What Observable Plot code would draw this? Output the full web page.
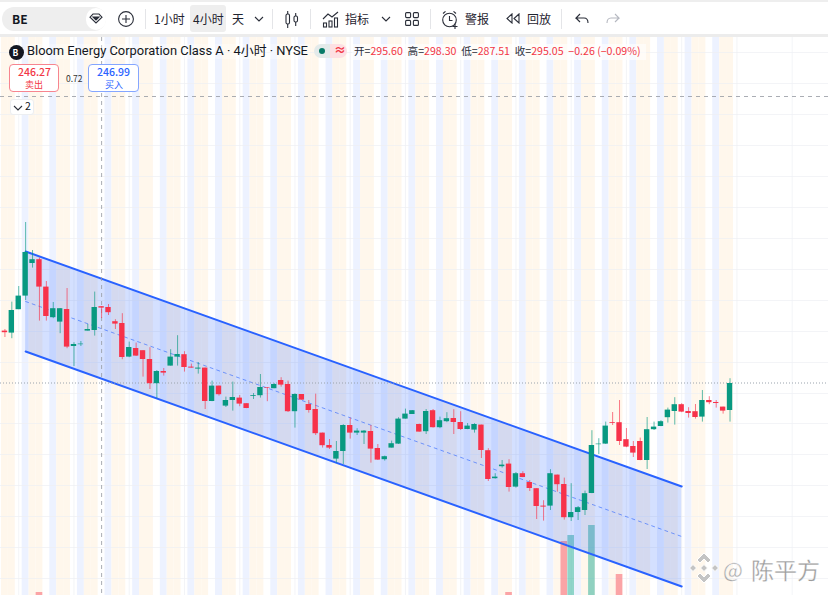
<!DOCTYPE html>
<html lang="zh">
<head>
<meta charset="utf-8">
<script src="https://cdn.jsdelivr.net/npm/d3@7"></script>
<script src="https://cdn.jsdelivr.net/npm/@observablehq/plot@0.6"></script>
<style>
html,body{margin:0;padding:0;width:828px;height:595px;overflow:hidden;background:#fff;font-family:"Noto Sans CJK SC","Noto Sans",sans-serif;color:#131722}
#wrap{position:relative;width:828px;height:595px;overflow:hidden}
#toolbar{height:37px;box-sizing:border-box;border-top:2px solid #eeeeee;border-bottom:3px solid #ececec;background:#fff}
#chart svg{display:block}
.a{position:absolute;white-space:nowrap;line-height:1}
.sep{position:absolute;top:9px;width:1px;height:20px;background:#e4e5e8}
.r{color:#f23645}
svg.i{position:absolute;fill:none;stroke:#2a2e39;stroke-width:1.1}
</style>
</head>
<body>
<div id="wrap">
  <div id="toolbar"></div>
  <div id="chart"></div>
  <div id="ui"></div>
</div>
<script>
// OHLC values, one per 4-hour bar
const opens = [272.2,271.2,282.9,289.7,306,307.9,294.2,278.9,276.7,283,264.5,265.4,272.2,272.5,284.4,284,276.9,276,259.2,263.5,262.4,258,245.9,252,254.7,259.2,260.4,254.2,253.2,253.7,237,244.7,234.7,237.5,238.7,235.9,239.5,239.9,244,243.4,247.5,245.5,231.9,240.5,235.5,233,221.2,215,208.2,212,225,221.2,221.2,222,213.5,207.9,213.7,215.7,228.2,230.5,225.5,221.9,232.4,223.9,226.9,228.5,226.5,223,222.7,225.2,212.4,198.4,204.4,205.7,194.2,200.9,196.5,193.4,184.7,184.7,200.2,195.5,178.9,181.5,182.5,191,215.4,215.7,226.4,226.4,217.9,214.5,217,207.5,222.9,224.5,228.9,232,235.4,232,231.9,229.2,237.5,236.5,234.2,232.5];
const closes = [271.4,282.5,289.7,311.5,307.9,294.2,279.5,283.4,283.4,264.2,265.5,265.7,273,284,283.7,281.4,275.7,259,264,259.7,258,245.9,252,251.2,259.2,260.5,254,253.7,253.7,237,244.7,240.4,237.5,239,235.7,233.5,239.9,244,243.7,245.5,245.2,231.9,240.5,237.7,232.5,220.9,214.9,213.7,212,225,221.2,222.2,222.2,213.2,207.7,209.4,215.9,228.2,230.7,232.4,221.7,232,223.9,227.4,228.4,226.5,223,224.7,225.5,212.5,198,199.2,205.2,194,200.9,199,193.5,184.5,184.2,200.9,195.4,178.9,181.5,183.9,190.9,215,215.7,224.7,226,217,214.2,211.2,207.5,222.9,224.2,226.9,232.7,235.4,231.7,231,229,237.5,236.4,236,232.2,246];
const highs = [273,286.7,294.5,326.5,312.5,308.7,297,286.5,283.5,293.5,266.4,267,275.5,291.7,284.5,285.5,277.9,280.9,266.7,266.2,262.4,263.9,252.5,253.5,262.9,269.9,261.9,255.7,256.5,253.7,247.2,244.7,239.2,246.7,240,235.9,241,250.5,244,245.9,248.9,247.2,240.9,240.5,237.5,240.7,221.2,218,217,225.4,228.7,223.4,222.5,225,215.5,209.7,217.2,228.9,233.2,232.5,225.7,233,233,229.2,231.4,232.9,231.9,226,225.9,225.2,213.4,200.9,207.5,207.9,201.5,201.9,197.5,193.4,187.4,202.9,200.2,198.7,195.9,184.5,192.2,222.4,218.4,226.7,231.5,237.5,223.5,217,218.7,229,226.7,227.4,233.7,238.9,235.9,233.9,235.5,242.5,239.4,237.5,234.2,248.4];
const lows = [269,268.4,282.9,287.5,303.7,277.2,277.2,278.4,270.9,263.4,254.5,264.5,272.2,269.7,278.5,280,273,257.9,258.9,259.5,249.2,243,238.4,249.7,254.7,254.7,251.7,253.7,250.7,233,236.9,239.7,234,232.2,234.4,233.4,238,238.7,236.9,243.4,244.2,231.5,223.7,237.5,231.2,220,213.7,213,206.2,205.5,218.2,220,215.5,206.2,207.5,207.2,213.7,215.5,228.2,230.5,221.7,220.5,223.7,223.4,226.4,220.5,222.5,222.9,221.2,208.5,197,198.2,203.7,191.7,193.7,198.9,192,178,177.2,182.5,191.7,177.7,177,177.5,180,190.9,210.5,215.5,225,215,213.9,209,207.4,203,222.5,224.4,226.2,225.2,231.4,228.7,228.2,226.7,235.4,233.7,230.7,226.7];

// volume bars visible at the bottom edge
const volumeBars = [5, 73, 81, 82, 85, 89];
const volumeSize = [1.5, 1.5, 27, 30, 35, 10.5];
const volumeUp = [false, false, false, true, true, false];

// parallel channel (bar index, price)
const channelBars = [3, 98];
const channelUpper = [312, 194.5];
const channelMiddle = [287, 169.5];
const channelLower = [262, 144.5];

// reference levels
const lastPrice = 246.25;
const crosshairBar = 14;
const crosshairPrice = 389.5;
const gridPrices = [411.5,396,380.5,365,349.5,334,318.5,303,287.5,272,256.5,241,226,210.5,195,179.5,164,148.5];
const gridBars = [2,10,18,26,34,42,50,58,66,74,82,90,98,106,114];
const sessionCycle = ["pre","pre","regular","post"];

const UP = "#089981", DOWN = "#f7324a";
const bars = opens.map((o, i) => ({i, o, c: closes[i], h: highs[i], l: lows[i], up: closes[i] >= o}));
const stripes = bars.map(d => ({i: d.i, s: sessionCycle[d.i % 4]}));
const vols = volumeBars.map((b, k) => ({i: b, v: volumeSize[k], up: volumeUp[k]}));
const channel = channelBars.map((b, k) => ({i: b, u: channelUpper[k], m: channelMiddle[k], l: channelLower[k]}));
const sFill = {pre: "#fff7ec", post: "#edf2ff"};
const Y0 = 140, Y1 = 419, half = 0.39;

const plot = Plot.plot({
  width: 828, height: 558,
  marginTop: 0, marginBottom: 0, marginLeft: 0, marginRight: 0,
  x: {domain: [-0.64, 119.26], range: [0, 828], axis: null},
  y: {domain: [Y0, Y1], range: [558, 0], axis: null},
  style: {background: "transparent"},
  marks: [
    Plot.rect(stripes.filter(d => d.s !== "regular"), {x1: d => d.i - 0.5, x2: d => d.i + 0.5, y1: Y0, y2: Y1, fill: d => sFill[d.s]}),
    Plot.ruleY(gridPrices, {stroke: "#eef0f3", strokeOpacity: 0.7, strokeWidth: 1}),
    Plot.ruleX(gridBars, {stroke: "#eef0f3", strokeOpacity: 0.7, strokeWidth: 1}),
    Plot.rect(vols, {x1: d => d.i - 0.48, x2: d => d.i + 0.48, y1: Y0, y2: d => Y0 + d.v, fill: d => d.up ? "#22ab94" : "#f7525f", fillOpacity: 0.5}),
    Plot.areaY(channel, {x: "i", y1: "l", y2: "u", fill: "#2962ff", fillOpacity: 0.2, curve: "linear"}),
    Plot.line(channel, {x: "i", y: "m", stroke: "#2962ff", strokeOpacity: 0.6, strokeWidth: 1, strokeDasharray: "3,4"}),
    Plot.line(channel, {x: "i", y: "u", stroke: "#2962ff", strokeWidth: 2}),
    Plot.line(channel, {x: "i", y: "l", stroke: "#2962ff", strokeWidth: 2}),
    Plot.ruleY([lastPrice], {stroke: "#9aa3ad", strokeWidth: 1, strokeDasharray: "1,2"}),
    Plot.ruleY([crosshairPrice], {stroke: "#9598a1", strokeWidth: 1, strokeDasharray: "4,4", strokeOpacity: 0.8}),
    Plot.ruleX([crosshairBar], {stroke: "#9598a1", strokeWidth: 1, strokeDasharray: "4,4", strokeOpacity: 0.8}),
    Plot.ruleX(bars, {x: "i", y1: "l", y2: "h", stroke: d => d.up ? UP : DOWN, strokeWidth: 1, strokeOpacity: 0.65}),
    Plot.rect(bars, {x1: d => d.i - half, x2: d => d.i + half, y1: "o", y2: "c", fill: d => d.up ? UP : DOWN})
  ]
});
document.getElementById("chart").appendChild(plot);

// toolbar and legend chrome
const txt = (s, x, y, css = "") => `<div class="a" style="left:${x}px;top:${y}px;${css}">${s}</div>`;
const tb = (s, x) => txt(s, x, 13, "font-size:12px;color:#1f2430");
const ic = (x, y, w, h, body, css = "") => `<svg class="i" style="left:${x}px;top:${y}px;${css}" width="${w}" height="${h}" viewBox="0 0 ${w} ${h}">${body}</svg>`;
const chev = (x, y) => ic(x, y, 10, 6, `<path d="M1 1l4 4 4-4"/>`);
const ui = [
  `<div class="a" style="left:2px;top:7px;width:104px;height:24px;border-radius:12px;background:#eeeeee"></div>`,
  `<div class="a" style="left:86px;top:8px;width:20px;height:22px;border-radius:11px;background:#fff"></div>`,
  txt("BE", 12, 13, "font-size:12px;font-weight:700"),
  ic(89, 13, 14, 11, `<path d="M4 1h6l3 3.2L7 10 1 4.2z"/><path d="M4 4h6L7 7z" fill="#2a2e39"/>`),
  ic(118, 11, 16, 16, `<circle cx="8" cy="8" r="7.4"/><path d="M8 4v8M4 8h8"/>`),
  `<div class="sep" style="left:145px"></div>`,
  tb("1小时", 154),
  `<div class="a" style="left:190px;top:5px;width:36px;height:27px;border-radius:3px;background:#eeeeee"></div>`,
  tb("4小时", 193),
  tb("天", 232),
  chev(254, 16),
  `<div class="sep" style="left:272px"></div>`,
  ic(285, 11, 14, 17, `<rect x="1" y="3" width="3.5" height="10" rx="1.5"/><path d="M2.7 0v3M2.7 13v4"/><rect x="9" y="5" width="3.5" height="6" rx="1.5"/><path d="M10.7 2v3M10.7 11v4"/>`),
  `<div class="sep" style="left:310px"></div>`,
  ic(322, 11, 17, 17, `<path d="M1 8l5-5 4 3 6-5"/><rect x="1.5" y="12" width="3" height="4"/><rect x="7" y="10" width="3" height="6"/><rect x="12.5" y="7" width="3" height="9"/>`),
  tb("指标", 345),
  chev(381, 16),
  ic(405, 12, 14, 14, `<rect x=".6" y=".6" width="5" height="5" rx="1"/><rect x="8.4" y=".6" width="5" height="5" rx="1"/><rect x=".6" y="8.4" width="5" height="5" rx="1"/><rect x="8.4" y="8.4" width="5" height="5" rx="1"/>`),
  `<div class="sep" style="left:430px"></div>`,
  ic(441, 10, 18, 19, `<circle cx="8.5" cy="10" r="6.8"/><path d="M8.5 6v4.5h3M2 3.5L4.5 1.3M15 3.5l-2.5-2.2M14 14v5M11.5 16.5h5"/>`),
  tb("警报", 465),
  ic(506, 13, 14, 11, `<path d="M6 1L1 5.5 6 10zM13 1L8 5.5 13 10z"/>`),
  tb("回放", 527),
  `<div class="sep" style="left:561px"></div>`,
  ic(575, 13, 14, 11, `<path d="M5 1L1 5h8c2.5 0 4 1.8 4 5M1 5l4 4"/>`),
  ic(606, 13, 14, 11, `<path d="M9 1l4 4H5C2.5 5 1 6.8 1 10M13 5l-4 4"/>`, "stroke:#b5b8c0;"),

  `<div class="a" style="left:9px;top:45px;width:15px;height:15px;border-radius:8px;background:#131722"></div>`,
  txt("B", 12.5, 48, "font-size:8.5px;font-weight:700;color:#fff"),
  `<div class="a" style="left:26px;top:44px;width:284px;height:15px;background:rgba(255,255,255,.35)"></div>`,
  txt("Bloom Energy Corporation Class A · 4小时 · NYSE", 27, 45, "font-size:12.9px;font-family:'Roboto','Noto Sans CJK SC',sans-serif"),
  `<div class="a" style="left:314px;top:44px;width:16px;height:14px;border-radius:7px 0 0 7px;background:#e3eaea"></div>`,
  `<div class="a" style="left:330px;top:44px;width:17px;height:14px;border-radius:0 7px 7px 0;background:#fde0e3"></div>`,
  `<div class="a" style="left:319px;top:48px;width:6px;height:6px;border-radius:3px;background:#067a68"></div>`,
  txt("≈", 334, 44, "font-size:12px;font-weight:700;color:#f23645"),
  `<div class="a" style="left:352px;top:44px;width:294px;height:16px;background:rgba(255,255,255,.6)"></div>`,
  txt(`开=<span class="r">295.60</span>&nbsp; 高=<span class="r">298.30</span>&nbsp; 低=<span class="r">287.51</span>&nbsp; 收=<span class="r">295.05</span>&nbsp; <span class="r">−0.26 (−0.09%)</span>`, 354, 46, "font-size:10.6px;color:#2a2e39"),

  `<div class="a" style="left:9px;top:64px;width:50px;height:28px;box-sizing:border-box;border:1px solid #f7858f;border-radius:4px;background:#fff"></div>`,
  txt("246.27", 18, 67, "font-size:10.5px;font-weight:500;color:#f23645"),
  txt("卖出", 25, 80, "font-size:9px;color:#f23645"),
  txt("0.72", 66, 74, "font-size:8.5px;color:#333"),
  `<div class="a" style="left:88px;top:64px;width:51px;height:28px;box-sizing:border-box;border:1px solid #85a6ff;border-radius:4px;background:#fff"></div>`,
  txt("246.99", 97, 67, "font-size:10.5px;font-weight:500;color:#2962ff"),
  txt("买入", 105, 80, "font-size:9px;color:#2962ff"),
  `<div class="a" style="left:10px;top:99px;width:24px;height:16px;box-sizing:border-box;border:1px solid #eceef1;border-radius:3px;background:#fff"></div>`,
  chev(13, 105),
  txt("2", 25, 101, "font-size:10.5px"),

  ic(688, 552, 32, 32, `<g stroke="#fff" stroke-width="1" fill="#c4c4c4"><path d="M16 1l7 7-3 3-4-4-4 4-3-3z"/><path d="M16 31l7-7-3-3-4 4-4-4-3 3z"/><path d="M5 12.5l3.5 3.5L5 19.5 1.5 16z"/><path d="M27 12.5l3.5 3.5-3.5 3.5-3.5-3.5z"/><path d="M16 12.5l3.5 3.5-3.5 3.5-3.5-3.5z"/></g>`, "stroke:#fff;"),
  txt("@", 723, 559, "font-size:21px;color:#a8a8a8;-webkit-text-stroke:.3px #fff"),
  txt("陈平方", 751, 558, "font-size:23px;color:#9c9c9c;letter-spacing:0;-webkit-text-stroke:.3px #fff")
].join("");
document.getElementById("ui").innerHTML = ui;
</script>
</body>
</html>
